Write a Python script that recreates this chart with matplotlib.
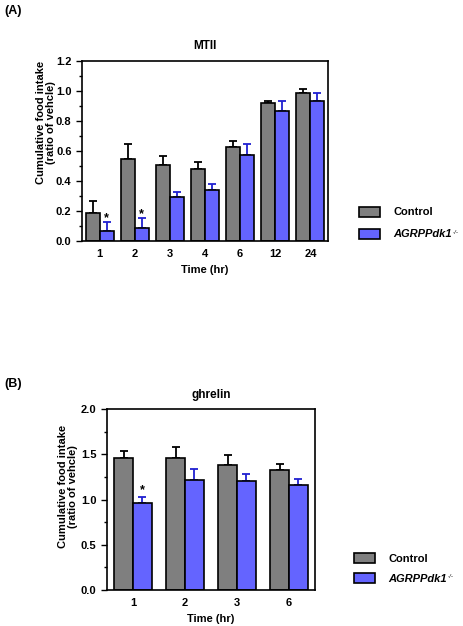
import matplotlib
matplotlib.use("Agg")
import matplotlib.pyplot as plt
import numpy as np
from matplotlib.patches import Patch
from matplotlib.ticker import MultipleLocator, FormatStrFormatter

plt.rcParams['font.family'] = ['Liberation Sans', 'DejaVu Sans']
plt.rcParams['font.weight'] = 'bold'

# Panel A data (MTII)
times_a = ["1", "2", "3", "4", "6", "12", "24"]
ctrl_a = [0.19, 0.55, 0.505, 0.48, 0.63, 0.92, 0.99]
ctrl_a_err = [0.08, 0.10, 0.06, 0.05, 0.035, 0.015, 0.025]
ko_a = [0.065, 0.09, 0.295, 0.34, 0.575, 0.865, 0.935]
ko_a_err = [0.06, 0.065, 0.035, 0.04, 0.07, 0.07, 0.055]
sig_a = [0, 1]

# Panel B data (ghrelin)
times_b = ["1", "2", "3", "6"]
ctrl_b = [1.46, 1.46, 1.38, 1.33]
ctrl_b_err = [0.08, 0.12, 0.11, 0.06]
ko_b = [0.96, 1.21, 1.20, 1.16]
ko_b_err = [0.07, 0.13, 0.08, 0.065]
sig_b = [0]

GRAY = '#7f7f7f'
BLUE = '#6464ff'
EBLUE = '#2020d0'

fig = plt.figure(figsize=(4.63, 6.26), dpi=100)

def panel(ax, cats, c, ce, k, ke, sig, w, ylim, major, minor, title, star_off,
          title_pad, ylab_xy):
    x = np.arange(len(cats))
    ax.bar(x - w/2, c, w, color=GRAY, edgecolor='black', linewidth=1.2, zorder=2)
    ax.bar(x + w/2, k, w, color=BLUE, edgecolor='black', linewidth=1.2, zorder=2)
    ax.errorbar(x - w/2, c, yerr=[np.zeros(len(c)), ce], fmt='none', ecolor='black',
                elinewidth=1.3, capsize=3, capthick=1.3, zorder=1)
    ax.errorbar(x + w/2, k, yerr=[np.zeros(len(k)), ke], fmt='none', ecolor=EBLUE,
                elinewidth=1.3, capsize=3, capthick=1.3, zorder=1)
    for i in sig:
        ax.text(x[i] + w/2, k[i] + ke[i] + star_off, '*', ha='center', va='center',
                fontsize=9, fontweight='bold')
    ax.set_xlim(-0.5, len(cats) - 0.5)
    ax.set_ylim(*ylim)
    ax.set_xticks(x)
    ax.set_xticklabels(cats, fontsize=8, fontweight='bold')
    ax.tick_params(axis='x', length=0, pad=6)
    ax.yaxis.set_major_locator(MultipleLocator(major))
    ax.yaxis.set_minor_locator(MultipleLocator(minor))
    ax.yaxis.set_major_formatter(FormatStrFormatter('%.1f'))
    ax.tick_params(axis='y', which='major', length=4, width=1, labelsize=8)
    ax.tick_params(axis='y', which='minor', length=2, width=1)
    for lbl in ax.get_yticklabels():
        lbl.set_fontweight('bold')
    for s in ax.spines.values():
        s.set_linewidth(1.2)
    ax.set_title(title, fontsize=8.5, fontweight='bold', pad=title_pad)
    ax.set_xlabel('Time (hr)', fontsize=8, fontweight='bold', labelpad=4)
    ax.set_ylabel('Cumulative food intake\n(ratio of vehcle)', fontsize=8,
                  fontweight='bold', linespacing=1.0)
    ax.yaxis.set_label_coords(*ylab_xy)
    handles = [Patch(facecolor=GRAY, edgecolor='black', linewidth=1.2),
               Patch(facecolor=BLUE, edgecolor='black', linewidth=1.2)]
    return handles

axA = fig.add_axes([82/463, 1 - 241/626, 246/463, 180/626])
hA = panel(axA, times_a, ctrl_a, ctrl_a_err, ko_a, ko_a_err, sig_a, 0.4,
           (0, 1.2), 0.2, 0.1, 'MTII', 0.025, 8.5, (-0.106, 0.66))
axB = fig.add_axes([107/463, 1 - 590/626, 208/463, 181/626])
hB = panel(axB, times_b, ctrl_b, ctrl_b_err, ko_b, ko_b_err, sig_b, 0.36,
           (0, 2.0), 0.5, 0.25, 'ghrelin', 0.07, 8.0, (-0.139, 0.57))

labels = ['Control', 'AGRPPdk1']

def make_legend(handles, anchor, spacing):
    leg = fig.legend(handles, labels, loc='center left', bbox_to_anchor=anchor,
                     frameon=False, fontsize=8, handlelength=1.9, handleheight=1.0,
                     handletextpad=1.2, labelspacing=spacing)
    leg.get_texts()[1].set_style('italic')
    return leg

legs = [make_legend(hA, (349/463, 1 - 223/626), 1.0),
        make_legend(hB, (344/463, 1 - 568.5/626), 0.8)]

fig.text(4/463, 1 - 11/626, '(A)', fontsize=9, fontweight='bold', va='center')
fig.text(4/463, 1 - 384/626, '(B)', fontsize=9, fontweight='bold', va='center')

fig.canvas.draw()
inv = fig.transFigure.inverted()
for leg in legs:
    bb = leg.get_texts()[1].get_window_extent()
    fx, fy = inv.transform((bb.x1 + 1, bb.y0 + 0.72 * bb.height))
    fig.text(fx, fy, '-/-', fontsize=4.5, fontweight='normal', fontstyle='italic',
             ha='left', va='center')

fig.savefig('out.png', dpi=100)
